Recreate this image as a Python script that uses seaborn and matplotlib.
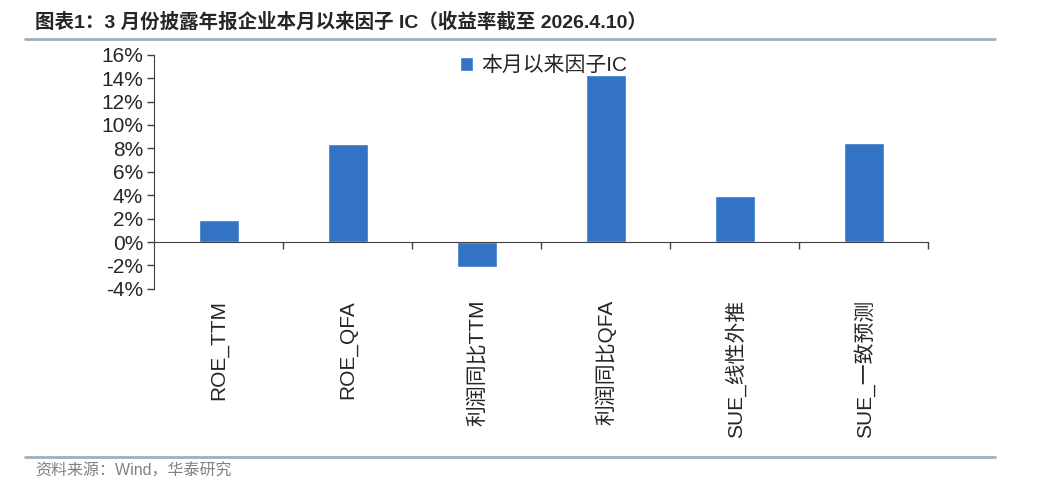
import numpy as np
import pandas as pd
import matplotlib
matplotlib.use('Agg')
import matplotlib.pyplot as plt
import matplotlib.ticker as mticker
import seaborn as sns

# Data
factors = ['ROE_TTM', 'ROE_QFA', '利润同比TTM', '利润同比QFA', 'SUE_线性外推', 'SUE_一致预测']
ic_values = [1.86, 8.37, -2.1, 14.28, 3.9, 8.5]
series_name = '本月以来因子IC'
y_ticks = [-4, -2, 0, 2, 4, 6, 8, 10, 12, 14, 16]

df = pd.DataFrame({'factor': factors, 'ic': ic_values})

sns.set_style('white')
plt.rcParams['font.family'] = ['Liberation Sans', 'Noto Sans CJK SC']
plt.rcParams['axes.unicode_minus'] = False

bar_color = '#3373C6'
axis_color = '#404040'

fig = plt.figure(figsize=(10.42, 4.98), dpi=100)
ax = fig.add_axes([0.148, 0.42, 0.743, 0.47])

sns.barplot(data=df, x='factor', y='ic', color=bar_color, width=0.31,
            saturation=1, label=series_name, ax=ax)

ax.set_xlim(-0.5, len(factors) - 0.5)
ax.set_ylim(y_ticks[0], y_ticks[-1])
ax.set_yticks(y_ticks)
ax.yaxis.set_major_formatter(mticker.FuncFormatter(lambda v, p: f'{v:.0f}%'))
ax.tick_params(axis='y', direction='out', length=5, width=1, color=axis_color,
               labelsize=15, pad=3, left=True)
ax.set_xlabel('')
ax.set_ylabel('')

# x axis line sits at zero, with ticks at category boundaries
for s in ['top', 'right']:
    ax.spines[s].set_visible(False)
ax.spines['left'].set_color(axis_color)
ax.spines['bottom'].set_color(axis_color)
ax.spines['bottom'].set_position(('data', 0))
ax.set_xticks(np.arange(len(factors)) + 0.5, minor=True)
ax.set_xticks([])
ax.tick_params(axis='x', which='minor', direction='out', length=5, width=1,
               color=axis_color, bottom=True)

# category labels below the plot
sec = ax.secondary_xaxis('bottom')
sec.set_xticks(range(len(factors)), labels=factors)
sec.tick_params(length=0, labelsize=15, rotation=90, pad=8)
sec.spines['bottom'].set_visible(False)
for lbl in sec.get_xticklabels():
    lbl.set_va('top')

ax.legend(loc='upper left', bbox_to_anchor=(0.433, 0.905), bbox_transform=fig.transFigure,
          frameon=False, fontsize=15, handlelength=0.65, handleheight=0.65,
          handletextpad=0.4, borderaxespad=0)

# title, rules and source
fig.text(0.034, 0.955, '图表1：3 月份披露年报企业本月以来因子 IC（收益率截至 2026.4.10）',
         fontsize=14, fontweight='bold', ha='left', va='center')
line_color = '#9BB0C0'
fig.add_artist(plt.Line2D([0.024, 0.955], [0.921, 0.921], color=line_color, lw=2,
                          transform=fig.transFigure))
fig.add_artist(plt.Line2D([0.024, 0.955], [0.082, 0.082], color=line_color, lw=2,
                          transform=fig.transFigure))
fig.text(0.034, 0.054, '资料来源：Wind，华泰研究', fontsize=11.5, color='#808080',
         ha='left', va='center')

fig.savefig('out.png', dpi=100)
